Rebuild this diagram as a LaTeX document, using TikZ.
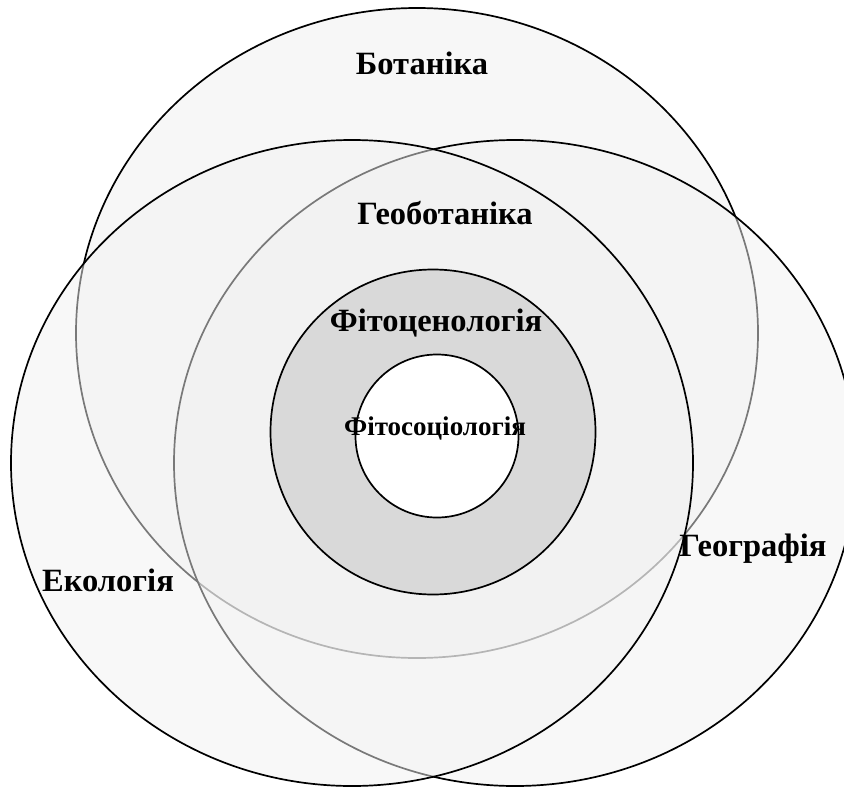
\documentclass[tikz,border=0pt]{standalone}
\usepackage{fontspec}
\setmainfont{Liberation Serif}
\begin{document}
\begin{tikzpicture}[x=1pt,y=-1pt,
  outline/.style={draw=black,line width=1.7pt},
  layer/.style={outline,fill=black!5,fill opacity=0.5},
  lbl/.style={font=\bfseries\fontsize{32.5}{38}\selectfont,anchor=base,inner sep=0pt},
  smalllbl/.style={font=\bfseries\fontsize{27}{32}\selectfont,anchor=base,inner sep=0pt}]
\useasboundingbox (0,0) rectangle (844,787);
\clip (0,0) rectangle (844,787);
% Botanika
\draw[outline,fill=black!3] (417,333) ellipse [x radius=341pt, y radius=325pt];
% Geografiya
\draw[layer] (515,463) ellipse [x radius=341pt, y radius=323pt];
% Ekologiya
\draw[layer] (352,463) ellipse [x radius=341pt, y radius=323pt];
% Fitocenologiya
\draw[outline,fill=black!15] (433,432) circle [radius=162.5pt];
% Fitosociologiya
\draw[outline,fill=white] (437,436) circle [radius=81.5pt];
% labels
\node[lbl] (bot) at (422,74) {Ботаніка};
\node[lbl] (geobot) at (445,224) {Геоботаніка};
\node[lbl] (fitocen) at (436,331) {Фітоценологія};
\node[smalllbl] (fitosoc) at (435,435) {Фітосоціологія};
\node[lbl] (eko) at (108,591) {Екологія};
\node[lbl] (geo) at (753,556) {Географія};
\end{tikzpicture}
\end{document}
